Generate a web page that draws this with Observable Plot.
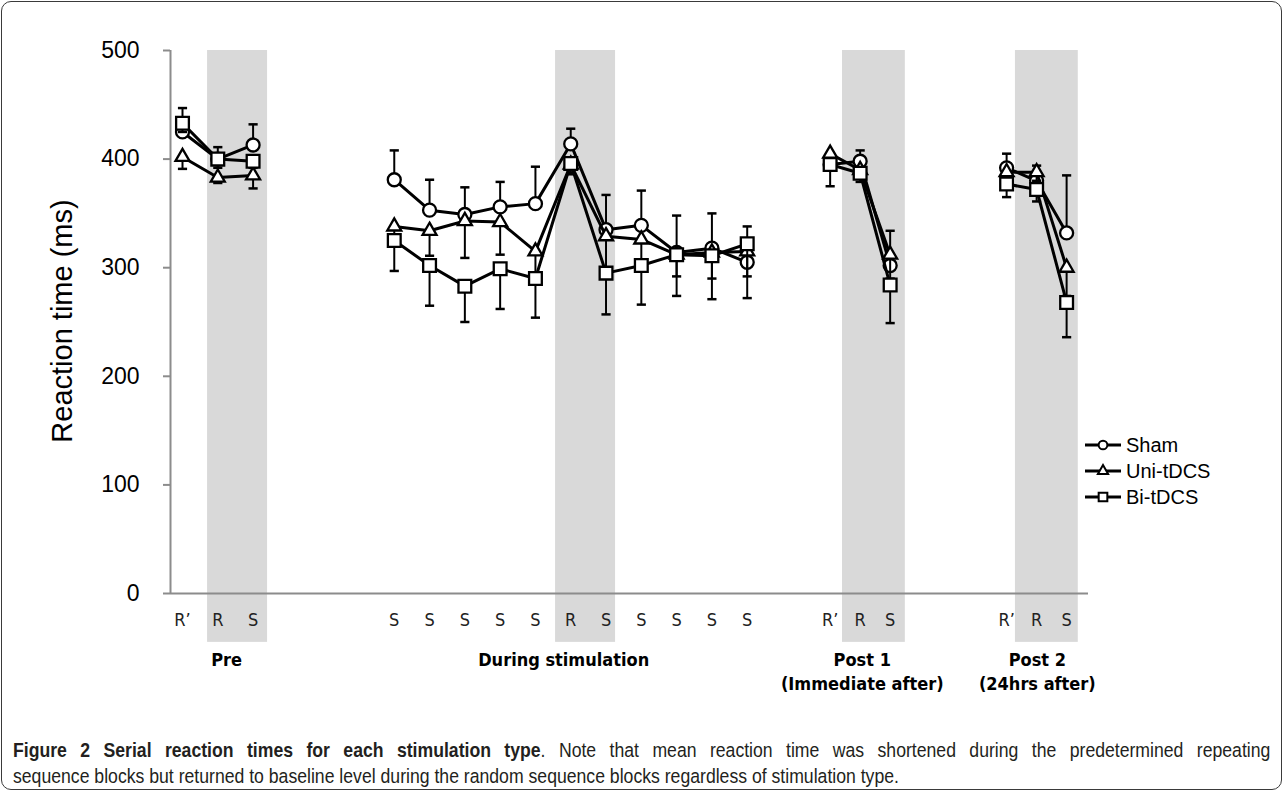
<!DOCTYPE html>
<html><head><meta charset="utf-8">
<script src="https://cdn.jsdelivr.net/npm/d3@7"></script>
<script src="https://cdn.jsdelivr.net/npm/@observablehq/plot@0.6"></script>
<style>
body{margin:0;background:#fff;}
#fig{position:relative;width:1284px;height:797px;overflow:hidden;font-family:"Liberation Sans",Arial,sans-serif;}
#border{position:absolute;left:1px;top:1px;width:1281px;height:789px;border:1.5px solid #3a3a3a;border-radius:10px;box-sizing:border-box;}
#chart{position:absolute;left:0;top:0;}
#ylabel{position:absolute;left:62px;top:321px;transform:translate(-50%,-50%) rotate(-90deg);font-size:29px;white-space:nowrap;color:#000;}
#legend{position:absolute;left:1085px;top:432px;font-size:20px;color:#000;}
.row{display:flex;align-items:center;height:26px;}
.row svg{margin-right:3px;}
#caption{position:absolute;left:13px;top:737px;width:1462px;transform:scaleX(0.86);transform-origin:0 0;font-family:"Liberation Sans",Arial,sans-serif;font-size:20.5px;line-height:26px;color:#231f20;}
#caption .l1{white-space:nowrap;text-align:justify;text-align-last:justify;}
#caption .l2{white-space:nowrap;}
</style></head>
<body>
<div id="fig">
  <div id="border"></div>
  <div id="chart"></div>
  <div id="ylabel">Reaction time (ms)</div>
  <div id="legend"></div>
  <div id="caption">
    <div class="l1"><b>Figure 2 Serial reaction times for each stimulation type</b>. Note that mean reaction time was shortened during the predetermined repeating</div>
    <div class="l2">sequence blocks but returned to baseline level during the random sequence blocks regardless of stimulation type.</div>
  </div>
</div>
<script>
// ---- data ----
const blockLabels = ["R’","R","S", "S","S","S","S","S","R","S","S","S","S","S", "R’","R","S", "R’","R","S"];
const blockSlot   = [0,1,2, 6,7,8,9,10,11,12,13,14,15,16, 18.35,19.2,20.05, 23.35,24.2,25.05];
const blockGroup  = ["Pre","Pre","Pre", "During","During","During","During","During","During","During","During","During","During","During", "Post1","Post1","Post1", "Post2","Post2","Post2"];

const seriesNames = ["Sham","Uni-tDCS","Bi-tDCS"];
const shamMean = [425,400,413, 381,353,349,356,359,414,335,339,314,318,305, 395,398,302, 392,380,332];
const uniMean  = [402,383,385, 338,334,343,342,315,395,329,326,312,314,315, 405,390,312, 388,388,300];
const biMean   = [433,400,398, 325,302,283,299,290,396,295,302,312,311,322, 395,387,284, 377,372,268];
// one-sided error bars: Sham upward, Uni-tDCS and Bi-tDCS downward
const shamErrUp  = [22,11,19, 27,28,25,23,34,14,32,32,34,32,33, 8,10,32, 13,14,53];
const uniErrDown = [11,5,12, 14,23,34,30,22,8,32,24,20,24,43, 10,5,22, 10,8,26];
const biErrDown  = [8,8,6, 28,37,33,37,36,10,38,36,38,40,30, 20,8,35, 12,11,32];

// shaded random-sequence blocks (x extents in slot units)
const bandStart = [0.71, 10.57, 18.7, 23.6];
const bandEnd   = [2.41, 12.27, 20.48, 25.38];

const groupNames  = ["Pre","During stimulation","Post 1\n(Immediate after)","Post 2\n(24hrs after)"];
const groupCenter = [1.25, 10.8, 19.26, 24.22];

const yTicks = [0,100,200,300,400,500];
const xDomain = [-0.34, 25.67];
const yDomain = [0, 500];
const bandBottom = -45;

// ---- build tables ----
const means = [shamMean, uniMean, biMean];
const errs = [
  shamErrUp.map(e => [0, e]),
  uniErrDown.map(e => [e, 0]),
  biErrDown.map(e => [e, 0])
];
const symbols = ["circle","triangle","square"];
const radii = [6.5, 5.2, 7.2];
const seriesData = seriesNames.map((name, s) => blockSlot.map((x, i) => ({
  series: name, x, group: blockGroup[i], y: means[s][i],
  lo: means[s][i] - errs[s][i][0], hi: means[s][i] + errs[s][i][1]
})));
const bands = bandStart.map((a, i) => ({x1: a, x2: bandEnd[i]}));
const labelMap = new Map(blockSlot.map((x, i) => [x, blockLabels[i]]));
const groupMap = new Map(groupCenter.map((x, i) => [x, groupNames[i]]));
const capHalf = 0.13;

const marks = [
  Plot.rect(bands, {x1: "x1", x2: "x2", y1: bandBottom, y2: yDomain[1], fill: "#d9d9d9"}),
  Plot.ruleY([0], {stroke: "#8c8c8c", strokeWidth: 2}),
  Plot.ruleX([xDomain[0]], {y1: 0, y2: yDomain[1], stroke: "#8c8c8c", strokeWidth: 2}),
  Plot.axisY({ticks: yTicks, tickSize: 7, tickPadding: 24, stroke: "#8c8c8c", strokeWidth: 2, fill: "#000", fontSize: 23, label: null, fontFamily: "Liberation Sans, Arial, sans-serif"}),
  Plot.axisX({ticks: blockSlot, tickFormat: d => labelMap.get(d), tickSize: 0, tickPadding: 20, fontSize: 18, fill: "#222", fontFamily: "Liberation Sans Narrow, DejaVu Sans Condensed, sans-serif", label: null}),
  Plot.axisX({ticks: groupCenter, tickFormat: d => groupMap.get(d), tickSize: 0, tickPadding: 56, fontSize: 18, fontWeight: "bold", lineHeight: 1.3, fill: "#000", fontFamily: "Liberation Sans Narrow, DejaVu Sans Condensed, sans-serif", label: null})
];

seriesData.forEach((data, s) => {
  const withLo = data.filter(d => d.lo < d.y);
  const withHi = data.filter(d => d.hi > d.y);
  marks.push(
    Plot.ruleX(data, {x: "x", y1: "lo", y2: "hi", stroke: "#000", strokeWidth: 2}),
    Plot.link(withHi, {x1: d => d.x - capHalf, x2: d => d.x + capHalf, y1: "hi", y2: "hi", stroke: "#000", strokeWidth: 2.5}),
    Plot.link(withLo, {x1: d => d.x - capHalf, x2: d => d.x + capHalf, y1: "lo", y2: "lo", stroke: "#000", strokeWidth: 2.5}),
    Plot.line(data, {x: "x", y: "y", z: "group", stroke: "#000", strokeWidth: 3}),
    Plot.dot(data, {x: "x", y: "y", symbol: () => symbols[s], r: radii[s], fill: "#fff", stroke: "#000", strokeWidth: 2.3})
  );
});

const chart = Plot.plot({
  width: 1284,
  height: 700,
  marginLeft: 170,
  marginRight: 1284 - 1088,
  marginTop: 50,
  marginBottom: 107,
  x: {type: "linear", domain: xDomain, axis: null},
  y: {domain: yDomain, axis: null},
  symbol: {type: "identity"},
  style: {background: "transparent", overflow: "visible"},
  marks
});
document.getElementById("chart").append(chart);

// ---- legend ----
const legend = document.getElementById("legend");
const legendSize = [60, 45, 75];
seriesNames.forEach((name, s) => {
  const row = document.createElement("div");
  row.className = "row";
  const sym = d3.symbol(s === 0 ? d3.symbolCircle : s === 1 ? d3.symbolTriangle : d3.symbolSquare, legendSize[s])();
  row.innerHTML = `<svg width="38" height="20"><line x1="0" y1="10" x2="36" y2="10" stroke="#000" stroke-width="3"/><path d="${sym}" transform="translate(18,10)" fill="#fff" stroke="#000" stroke-width="2"/></svg><span>${name}</span>`;
  legend.append(row);
});
</script>
</body></html>
